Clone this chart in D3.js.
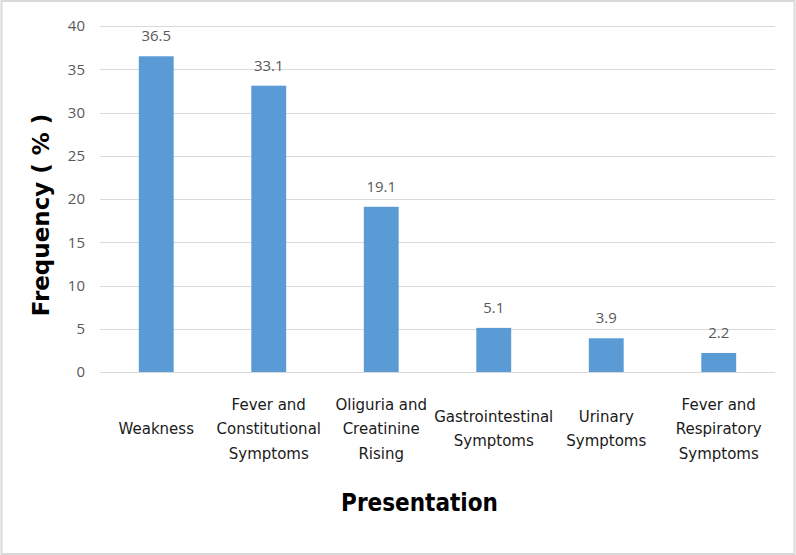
<!DOCTYPE html>
<html>
<head>
<meta charset="utf-8">
<script src="https://cdn.jsdelivr.net/npm/d3@7"></script>
<style>
  body { margin: 0; background: #fff; }
  svg { display: block; }
</style>
</head>
<body>
<script>
const categories = [
  ['Weakness'],
  ['Fever and', 'Constitutional', 'Symptoms'],
  ['Oliguria and', 'Creatinine', 'Rising'],
  ['Gastrointestinal', 'Symptoms'],
  ['Urinary', 'Symptoms'],
  ['Fever and', 'Respiratory', 'Symptoms'],
]
const values = [36.5, 33.1, 19.1, 5.1, 3.9, 2.2]
const yTicks = [0, 5, 10, 15, 20, 25, 30, 35, 40]

const W = 796, H = 555
const margin = { top: 26, right: 21, bottom: 183, left: 100 }

const svg = d3.select('body').append('svg')
  .attr('width', W)
  .attr('height', H)

// outer frame
svg.append('rect')
  .attr('x', 1.5).attr('y', 1)
  .attr('width', W - 3).attr('height', H - 2)
  .attr('fill', '#fff')
  .attr('stroke', '#d9d9d9')
  .attr('stroke-width', 2)

const x = d3.scaleBand()
  .domain(d3.range(categories.length))
  .range([margin.left, W - margin.right])
  .paddingInner(0.69)
  .paddingOuter(0.345)

const y = d3.scaleLinear()
  .domain([0, 40])
  .range([H - margin.bottom, margin.top])

// gridlines
svg.append('g')
  .selectAll('line')
  .data(yTicks)
  .join('line')
  .attr('x1', margin.left)
  .attr('x2', W - margin.right)
  .attr('y1', d => Math.round(y(d)) + 0.5)
  .attr('y2', d => Math.round(y(d)) + 0.5)
  .attr('stroke', '#d9d9d9')
  .attr('stroke-width', 1)

// y tick labels
const yAxis = svg.append('g')
  .attr('transform', `translate(${margin.left},0)`)
  .call(d3.axisLeft(y).tickValues(yTicks).tickSize(0).tickPadding(15))
yAxis.select('.domain').remove()
yAxis.selectAll('text')
  .attr('font-family', '"Open Sans", sans-serif')
  .attr('font-size', 15)
  .attr('fill', '#595959')

// bars
svg.append('g')
  .selectAll('rect')
  .data(values)
  .join('rect')
  .attr('x', (d, i) => x(i))
  .attr('width', x.bandwidth())
  .attr('y', d => y(d))
  .attr('height', d => y(0) - y(d))
  .attr('fill', '#5b9bd5')

// data labels
svg.append('g')
  .selectAll('text')
  .data(values)
  .join('text')
  .attr('x', (d, i) => x(i) + x.bandwidth() / 2)
  .attr('y', d => y(d) - 15)
  .attr('text-anchor', 'middle')
  .attr('font-family', '"Open Sans", sans-serif')
  .attr('font-size', 15)
  .attr('fill', '#595959')
  .text(d => d.toFixed(1))

// category labels
const lineH = 24.5
const labelMid = 429
svg.append('g')
  .selectAll('text')
  .data(categories)
  .join('text')
  .attr('text-anchor', 'middle')
  .attr('font-family', '"DejaVu Sans", sans-serif')
  .attr('font-size', 15)
  .attr('fill', '#1a1a1a')
  .each(function (lines, i) {
    const t = d3.select(this)
    const cx = x(i) + x.bandwidth() / 2
    const y0 = labelMid - (lines.length - 1) * lineH / 2 + 5
    lines.forEach((ln, j) => {
      t.append('tspan')
        .attr('x', cx)
        .attr('y', y0 + j * lineH)
        .text(ln)
    })
  })

// axis titles
svg.append('text')
  .attr('x', (margin.left + W - margin.right) / 2 - 18)
  .attr('y', 511)
  .attr('text-anchor', 'middle')
  .attr('font-family', '"DejaVu Sans Condensed", "DejaVu Sans", sans-serif')
  .attr('font-stretch', 'condensed')
  .attr('font-weight', 'bold')
  .attr('font-size', 24)
  .attr('fill', '#000')
  .text('Presentation')

svg.append('text')
  .attr('transform', 'translate(49,215) rotate(-90)')
  .attr('text-anchor', 'middle')
  .attr('font-family', '"DejaVu Sans", sans-serif')
  .attr('font-weight', 'bold')
  .attr('font-size', 23)
  .attr('fill', '#000')
  .text('Frequency ( % )')
</script>
</body>
</html>
